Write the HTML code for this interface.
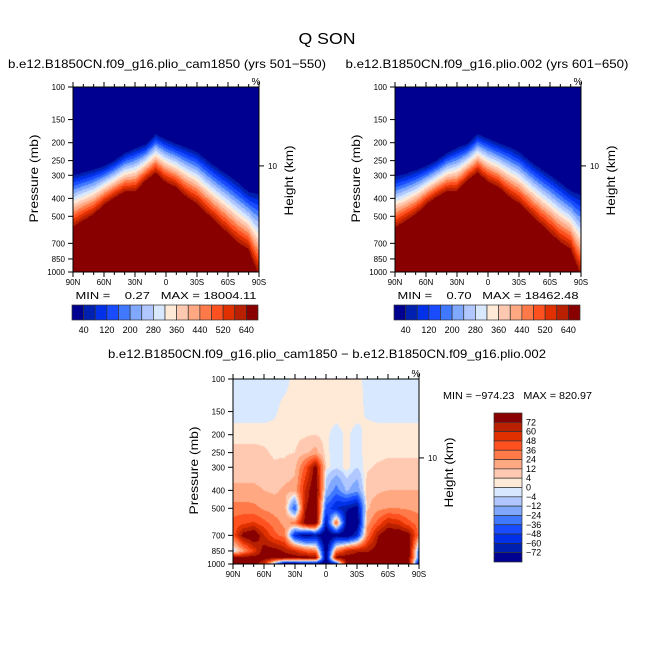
<!DOCTYPE html>
<html><head><meta charset="utf-8">
<style>
body{margin:0;background:#fff;}
#root{position:relative;width:654px;height:654px;overflow:hidden;font-family:"Liberation Sans",sans-serif;}
canvas{position:absolute;}
svg{position:absolute;left:0;top:0;}
svg text{white-space:pre;}
</style></head>
<body>
<div id="root">
<canvas id="c1" style="left:73px;top:87px" width="186" height="185"></canvas>
<canvas id="c2" style="left:395px;top:87px" width="186" height="185"></canvas>
<canvas id="c3" style="left:233px;top:379px" width="186" height="185"></canvas>
<svg id="ov" width="654" height="654"></svg>
</div>
<script>
// ---- data ----
const lats = [90,80,70,60,50,40,30,20,10,0,-10,-20,-30,-40,-50,-60,-70,-80,-90];
const absLevels = [40,80,120,160,200,240,280,320,360,400,440,480,520,560,600];
const absTickLabels = ['40','120','200','280','360','440','520','640'];
const diffLevels = [-72,-60,-48,-36,-24,-12,-4,0,4,12,24,36,48,60,72];
const diffTickLabels = ['72','60','48','36','24','12','4','0','-4','-12','-24','-36','-48','-60','-72'];
const pTicks = [100,150,200,250,300,400,500,700,850,1000];
const latTickLabels = ['90N','60N','30N','0','30S','60S','90S'];
const p40A = [300,290,280,268,250,228,215,205,180,192,203,213,225,250,275,300,330,370,380];
const pTopA = [594,545,505,445,408,380,380,330,300,338,360,408,445,505,570,645,730,790,1100];
const p40B = [305,295,282,268,250,228,213,203,180,190,201,211,225,250,275,300,330,365,385];
const pTopB = [600,550,505,445,405,378,378,328,298,336,358,405,442,502,568,640,725,785,1100];
const gridP = [100,150,200,250,300,400,500,600,700,850,925,1000];
const diff = [
[-2,-2,-2,-2,-2,-2, 2, 2, 2, 2, 2, 2, 2,-2,-2,-2,-2,-2,-2],
[-2,-2,-2,-2,-1, 2, 2, 2, 2, 2, 2, 2, 2,-1,-2,-2,-2,-2,-2],
[ 2, 2, 2, 2, 2, 2, 2, 3, 4, 1,-2, 1,-2, 2, 2, 2, 2, 2, 2],
[ 6, 6, 6, 5, 3, 3, 4,10,16, 1,-2, 1,-2, 2, 2, 3, 3, 3, 3],
[ 8, 8, 8, 7, 5, 6,10,40,80, 2,-3, 2,-4, 3, 5, 6, 6, 6, 6],
[14,14,14,12,10,14,16,60,90,-10,-30,-10,-20,8,10,12,12,12,12],
[30,30,28,22,18,16,-40,70,90,-40,-60,-70,-80,10,20,24,24,22,20],
[40,45,50,40,30,20,30,80,90,-70,40,-80,-90,20,40,60,55,40,30],
[40,80,90,60,40,30,-60,-80,-70,-90,-80,-90,-60,30,70,90,90,80,30],
[-10,20,50,80,80,70,60,40,30,-90,30,60,70,70,80,90,90,90,-30],
[80,80,80,80,80,80,80,80,80,-90,80,80,80,80,80,80,80,80,-30],
[80,80,80,60,-20,-90,-90,-80,-80,-90,-60,80,80,80,80,80,80,80,-80]];
const colors = ['#000090','#0020b0','#0030e8','#1a4cff','#4078ff','#80a8ff','#b0c8ff','#d8e8ff','#ffead8','#ffc8b0','#ffa882','#ff7a48','#ff5020','#e03000','#b82000','#880000'];

// ---- scales ----
const W=186,H=185;
function yOfP(p){return H*Math.log10(p/100);}
function pOfY(y){return 100*Math.pow(10,y/H);}
function latOfX(x){return 90-180*x/W;}
function band(v,lv){let i=0;while(i<lv.length&&v>=lv[i])i++;return i;}
function interpLat(arr,lat){const f=(90-lat)/10;const i=Math.min(17,Math.floor(f));const t=f-i;return arr[i]*(1-t)+arr[i+1]*t;}
function absVal(lat,p,a40,aTop){const l40=Math.log10(interpLat(a40,lat)),lt=Math.log10(interpLat(aTop,lat));const f=(Math.log10(p)-l40)/(lt-l40);return 40+f*600;}
function diffVal(lat,p){const fx=(90-lat)/10;const i=Math.min(17,Math.floor(fx));const tx=fx-i;const lp=Math.log10(p);let j=0;while(j<gridP.length-2&&lp>Math.log10(gridP[j+1]))j++;const ty=(lp-Math.log10(gridP[j]))/(Math.log10(gridP[j+1])-Math.log10(gridP[j]));const a=diff[j][i]*(1-tx)+diff[j][i+1]*tx;const b=diff[j+1][i]*(1-tx)+diff[j+1][i+1]*tx;return a*(1-ty)+b*ty;}
function fill(id,fn,lv){const ctx=document.getElementById(id).getContext('2d');for(let y=0;y<H;y++)for(let x=0;x<W;x++){ctx.fillStyle=colors[band(fn(latOfX(x+0.5),pOfY(y+0.5)),lv)];ctx.fillRect(x,y,1,1);}}
fill('c1',(la,p)=>absVal(la,p,p40A,pTopA),absLevels);
fill('c2',(la,p)=>absVal(la,p,p40B,pTopB),absLevels);
fill('c3',diffVal,diffLevels);

// ---- overlay ----
const svg=document.getElementById('ov');const NS='http://www.w3.org/2000/svg';
function el(t,a,txt){const e=document.createElementNS(NS,t);for(const k in a)e.setAttribute(k,a[k]);if(txt!==undefined)e.textContent=txt;svg.appendChild(e);return e;}
function text(x,y,s,size,name,anchor,rot,len){const e=el('text',{x:x,y:y,'font-size':size,'text-anchor':anchor||'middle',fill:'#000'},s);if(len){e.setAttribute('textLength',len);e.setAttribute('lengthAdjust','spacingAndGlyphs');}if(rot)e.setAttribute('transform','rotate(-90 '+x+' '+y+')');return e;}
function axes(x0,y0,pfx){
  const f=el('rect',{x:x0,y:y0,width:W,height:H,fill:'none',stroke:'#000','stroke-width':1});
  
  pTicks.forEach(p=>{const y=y0+yOfP(p);el('line',{x1:x0-5,x2:x0,y1:y,y2:y,stroke:'#000'});text(x0-8,y+3,String(p),8,pfx+'-y-tick-label','end');});
  for(let k=0;k<=18;k++){const x=x0+W*k/18;const L=(k%3==0)?5:3;el('line',{x1:x,x2:x,y1:y0+H,y2:y0+H+L,stroke:'#000'});el('line',{x1:x,x2:x,y1:y0,y2:y0-L,stroke:'#000'});}
  latTickLabels.forEach((s,k)=>{text(x0+W*k/6,y0+H+13,s,8,pfx+'-x-tick-label');});
  const yk=y0+yOfP(267);el('line',{x1:x0+W,x2:x0+W+5,y1:yk,y2:yk,stroke:'#000'});
  text(x0+W+9,yk+3,'10',8,pfx+'-right-tick-label','start');
  text(x0+W-3,y0-2,'%',10,pfx+'-units-label');
  text(x0-35,y0+H/2-1,'Pressure (mb)',12,pfx+'-y-axis-title','middle',true,88);
  text(x0+W+34,y0+H/2+1,'Height (km)',12,pfx+'-right-axis-title','middle',true,70);
}
axes(73,87,'left');axes(395,87,'right');axes(233,379,'diff');
text(327,44,'Q SON',16,'figure-title','middle',false,57);
text(167,68,'b.e12.B1850CN.f09_g16.plio_cam1850 (yrs 501\u2212550)',12,'left-panel-title','middle',false,318);
text(487,68,'b.e12.B1850CN.f09_g16.plio.002 (yrs 601\u2212650)',12,'right-panel-title','middle',false,283);
text(327,358,'b.e12.B1850CN.f09_g16.plio_cam1850 \u2212 b.e12.B1850CN.f09_g16.plio.002',12,'diff-panel-title','middle',false,438);
text(166,299,'MIN =    0.27   MAX = 18004.11',10,'left-min-max','middle',false,181);
text(488,299,'MIN =    0.70   MAX = 18462.48',10,'right-min-max','middle',false,181);
text(443,399,'MIN = \u2212974.23   MAX = 820.97',10,'diff-min-max','start',false,149);
function hbar(x0,pfx){const w=186/16;for(let i=0;i<16;i++){const r=el('rect',{x:x0+i*w,y:305,width:w,height:15,fill:colors[i],stroke:'#333','stroke-width':0.7});}
  absTickLabels.forEach((s,k)=>{text(x0+w*(1+2*k),333,s,9,pfx+'-colorbar-label');});}
hbar(72,'left');hbar(394,'right');
(function(){const x0=494,y0=413,h=149/16;for(let i=0;i<16;i++){const r=el('rect',{x:x0,y:y0+i*h,width:28,height:h,fill:colors[15-i],stroke:'#333','stroke-width':0.7});}
  diffTickLabels.forEach((s,k)=>{text(x0+32,y0+h*(k+1)+3,s.replace('-','\u2212'),9,'diff-colorbar-label','start');});})();
</script>
</body></html>
